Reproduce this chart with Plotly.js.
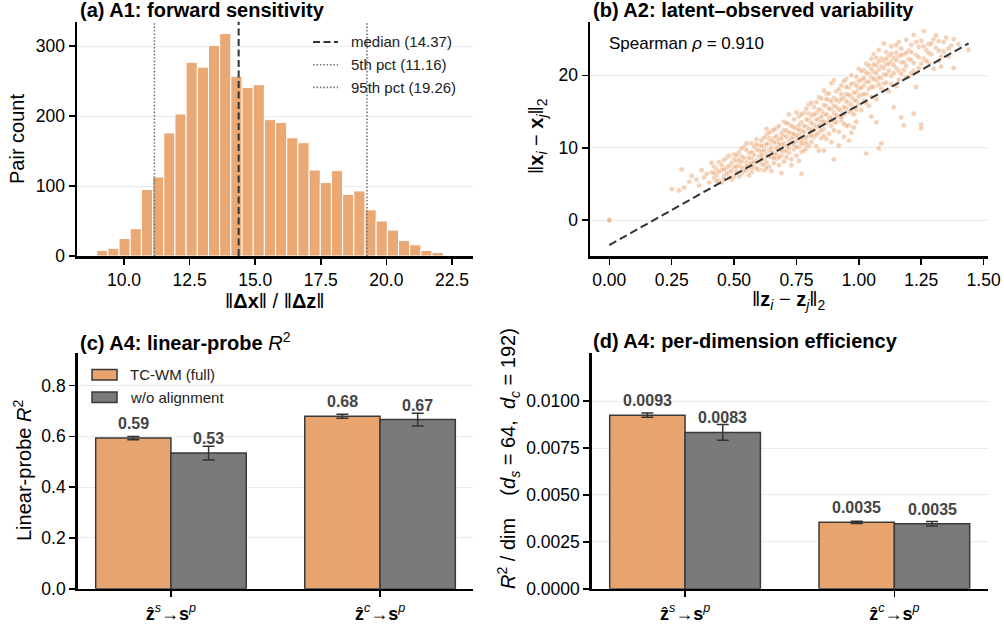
<!DOCTYPE html>
<html><head><meta charset="utf-8">
<script src="https://cdn.plot.ly/plotly-3.0.1.min.js"></script>
<style>html,body{margin:0;padding:0;background:#fff;}#chart{width:1004px;height:628px;}</style>
</head><body><div id="chart"></div>
<script>
// ---------- (a) histogram of ||dx||/||dz|| ----------
const histBinCenters = [9.173, 9.599, 10.025, 10.451, 10.877, 11.303, 11.729, 12.155, 12.581, 13.007, 13.433, 13.859, 14.285, 14.711, 15.137, 15.563, 15.989, 16.415, 16.841, 17.267, 17.693, 18.119, 18.545, 18.971, 19.397, 19.823, 20.249, 20.675, 21.101, 21.527, 21.953];
const histCounts = [8, 11, 25, 39, 95, 113, 176, 203, 277, 270, 301, 318, 257, 241, 245, 195, 191, 169, 162, 123, 105, 122, 88, 93, 66, 50, 37, 22, 16, 8, 5];
const histBinWidth = 0.426;
const medianVal = 14.37, p5Val = 11.16, p95Val = 19.26;

// ---------- (b) latent vs observed distances ----------
const scatterPairs = [
[0.00,0.0],[0.00,0.0],
[0.25,4.3],[0.28,4.1],[0.29,7.0],[0.30,4.5],[0.32,5.3],[0.33,6.1],[0.35,5.6],[0.36,4.8],[0.37,6.9],[0.38,5.9],[0.39,6.4],[0.40,5.2],
[0.41,6.6],[0.42,5.8],[0.42,7.4],[0.43,6.2],[0.44,5.5],[0.44,8.0],[0.45,6.9],[0.45,7.6],[0.46,6.1],[0.46,5.7],[0.47,7.2],[0.47,8.6],[0.48,6.6],[0.48,5.9],[0.49,7.9],[0.49,6.8],[0.50,9.1],[0.50,7.3],[0.50,6.0],[0.43,7.0],[0.46,8.3],[0.48,7.5],
[0.41,7.9],[0.43,5.4],[0.44,6.7],[0.45,5.2],[0.47,6.4],[0.49,5.6],[0.50,8.4],[0.42,6.5],[0.46,7.0],[0.48,8.9],
[0.51,8.2],[0.51,6.7],[0.52,7.6],[0.52,9.4],[0.53,6.4],[0.53,8.8],[0.54,7.1],[0.54,10.1],[0.55,8.0],[0.55,6.9],[0.56,9.3],[0.56,7.7],[0.57,8.5],[0.57,10.6],[0.57,6.6],[0.58,9.0],[0.58,7.4],[0.59,8.2],[0.59,11.2],[0.59,9.8],[0.60,7.0],[0.60,8.8],[0.52,8.3],[0.53,7.3],[0.55,9.7],[0.56,6.2],[0.58,10.2],[0.54,8.6],[0.60,10.3],[0.57,7.9],
[0.51,7.4],[0.52,6.0],[0.53,9.9],[0.54,6.8],[0.55,7.5],[0.56,8.6],[0.57,9.4],[0.58,8.0],[0.59,7.1],[0.60,9.6],[0.51,9.0],[0.53,8.1],[0.55,10.6],[0.57,7.2],[0.59,10.5],
[0.61,9.5],[0.61,7.8],[0.61,11.0],[0.62,8.4],[0.62,10.2],[0.62,6.9],[0.63,9.1],[0.63,11.8],[0.63,8.0],[0.64,10.6],[0.64,7.4],[0.64,9.7],[0.65,12.3],[0.65,8.7],[0.65,10.0],[0.66,9.3],[0.66,11.4],[0.66,7.9],[0.67,10.8],[0.67,8.5],[0.67,12.7],[0.68,9.9],[0.68,11.1],[0.68,7.6],[0.69,10.4],[0.69,8.9],[0.69,12.0],[0.70,9.5],[0.70,11.7],[0.70,13.6],[0.62,9.6],[0.64,11.3],[0.65,6.8],[0.66,10.7],[0.67,9.1],[0.68,13.0],[0.69,6.5],[0.63,12.6],[0.61,8.6],[0.70,8.1],
[0.61,10.3],[0.62,7.6],[0.63,10.5],[0.64,8.8],[0.65,11.0],[0.66,8.6],[0.67,11.6],[0.68,10.5],[0.69,9.6],[0.70,10.6],[0.62,11.4],[0.64,12.1],[0.66,12.5],[0.68,8.7],[0.70,12.4],[0.61,9.0],[0.63,7.2],[0.65,9.4],[0.67,10.0],[0.69,11.3],
[0.71,10.2],[0.71,12.4],[0.71,8.7],[0.72,11.0],[0.72,9.3],[0.72,13.3],[0.73,10.7],[0.73,12.0],[0.73,8.4],[0.74,11.5],[0.74,13.9],[0.74,9.8],[0.75,10.9],[0.75,12.7],[0.75,8.9],[0.76,11.8],[0.76,14.3],[0.76,10.1],[0.77,12.3],[0.77,9.4],[0.77,13.5],[0.78,11.2],[0.78,14.8],[0.78,10.5],[0.79,12.9],[0.79,9.9],[0.79,15.4],[0.80,11.7],[0.80,13.8],[0.80,10.3],[0.72,14.6],[0.73,7.6],[0.74,12.8],[0.75,14.9],[0.76,8.2],[0.77,11.0],[0.78,13.0],[0.79,11.4],[0.80,16.0],[0.71,11.5],[0.77,6.4],
[0.71,9.6],[0.72,12.1],[0.73,11.3],[0.74,10.4],[0.75,11.7],[0.76,13.1],[0.77,10.6],[0.78,12.2],[0.79,13.9],[0.80,12.6],[0.71,13.4],[0.73,13.0],[0.75,10.1],[0.77,14.6],[0.79,10.7],[0.72,10.0],[0.74,11.9],[0.76,12.5],[0.78,9.6],[0.80,14.7],
[0.81,12.5],[0.81,14.4],[0.81,10.8],[0.82,13.2],[0.82,15.6],[0.82,11.5],[0.83,12.9],[0.83,16.3],[0.83,10.2],[0.84,14.0],[0.84,12.1],[0.84,17.0],[0.85,13.6],[0.85,15.1],[0.85,11.3],[0.86,14.7],[0.86,12.6],[0.86,9.6],[0.87,15.8],[0.87,13.4],[0.87,17.5],[0.88,14.2],[0.88,11.9],[0.88,16.6],[0.89,15.3],[0.89,13.0],[0.89,18.9],[0.90,14.8],[0.90,16.9],[0.90,12.4],[0.83,14.8],[0.84,9.6],[0.85,16.8],[0.86,17.9],[0.87,11.2],[0.89,10.8],[0.90,19.3],[0.86,15.9],[0.81,16.2],[0.88,13.7],[0.90,8.4],
[0.81,13.4],[0.82,12.4],[0.83,13.9],[0.84,15.3],[0.85,12.4],[0.86,13.6],[0.87,14.6],[0.88,15.4],[0.89,14.1],[0.90,15.8],[0.81,11.7],[0.83,11.8],[0.85,14.3],[0.87,16.7],[0.89,16.4],[0.82,14.6],[0.84,13.1],[0.86,11.6],[0.88,17.5],[0.90,13.6],
[0.91,15.6],[0.91,13.5],[0.91,17.8],[0.92,14.3],[0.92,16.4],[0.92,12.2],[0.93,15.1],[0.93,18.6],[0.93,13.8],[0.94,16.9],[0.94,14.6],[0.94,11.5],[0.95,17.4],[0.95,15.5],[0.95,19.5],[0.96,16.2],[0.96,13.1],[0.96,18.3],[0.97,17.0],[0.97,14.9],[0.97,20.0],[0.98,16.6],[0.98,18.9],[0.98,12.8],[0.99,17.7],[0.99,15.3],[0.99,19.8],[1.00,18.2],[1.00,16.0],[1.00,20.9],[0.92,10.3],[0.94,19.2],[0.96,11.0],[0.97,12.1],[0.99,13.6],[0.93,16.7],[0.95,13.0],
[0.91,16.6],[0.92,15.3],[0.93,17.4],[0.94,15.6],[0.95,16.4],[0.96,17.3],[0.97,15.9],[0.98,17.6],[0.99,16.5],[1.00,19.2],[0.91,14.5],[0.93,14.2],[0.95,18.4],[0.97,18.8],[0.99,18.6],[0.92,18.1],[0.94,13.3],[0.96,15.0],[0.98,14.6],[1.00,17.1],
[1.01,17.3],[1.01,19.4],[1.01,15.2],[1.02,18.6],[1.02,20.7],[1.02,16.5],[1.03,19.1],[1.03,17.4],[1.03,21.6],[1.04,18.1],[1.04,20.2],[1.04,15.8],[1.05,19.7],[1.05,22.3],[1.05,17.0],[1.06,20.5],[1.06,18.4],[1.06,22.9],[1.07,19.3],[1.07,21.4],[1.07,16.7],[1.08,20.8],[1.08,23.5],[1.08,18.7],[1.09,21.2],[1.09,19.6],[1.09,10.6],[1.10,22.0],[1.10,20.1],[1.10,24.4],[1.03,9.2],[1.08,9.9],[1.05,14.3],[1.07,13.5],
[1.01,18.3],[1.02,17.4],[1.03,20.3],[1.04,19.1],[1.05,18.4],[1.06,21.5],[1.07,20.3],[1.08,19.7],[1.09,22.3],[1.10,21.0],[1.01,20.6],[1.03,16.2],[1.05,20.9],[1.07,22.4],[1.09,18.2],[1.02,19.6],[1.04,21.4],[1.06,19.5],[1.08,21.9],[1.10,18.9],
[1.11,21.5],[1.11,19.0],[1.11,23.2],[1.12,20.6],[1.12,22.7],[1.12,17.8],[1.13,21.9],[1.13,24.0],[1.13,19.9],[1.14,22.4],[1.14,20.3],[1.14,15.6],[1.15,23.1],[1.15,21.0],[1.15,18.5],[1.16,22.6],[1.16,24.6],[1.16,19.4],[1.17,21.8],[1.17,23.7],[1.18,20.7],[1.18,22.9],[1.18,13.1],[1.19,24.9],[1.19,21.3],[1.20,23.4],[1.20,19.8],[1.17,14.2],
[1.11,22.3],[1.12,21.6],[1.13,23.0],[1.14,21.4],[1.15,22.1],[1.16,20.6],[1.17,22.8],[1.18,21.8],[1.19,23.1],[1.20,22.2],[1.11,20.1],[1.13,18.8],[1.15,24.2],[1.17,20.2],[1.19,19.7],
[1.21,22.1],[1.21,24.2],[1.22,20.6],[1.22,25.6],[1.23,22.8],[1.23,18.4],[1.24,23.9],[1.24,21.0],[1.25,13.2],[1.25,12.7],[1.22,14.7],[1.25,24.8],[1.26,22.3],[1.26,26.1],[1.27,23.5],[1.28,21.7],[1.28,24.3],[1.29,22.9],[1.30,25.0],[1.30,20.9],
[1.21,23.2],[1.22,21.7],[1.23,24.6],[1.24,22.5],[1.26,24.0],[1.27,22.0],[1.29,24.4],[1.21,20.3],[1.25,21.6],[1.28,23.1],
[1.31,23.8],[1.31,25.5],[1.32,22.0],[1.32,24.7],[1.33,21.2],[1.34,23.3],[1.35,25.2],[1.36,22.6],[1.37,24.1],[1.38,25.0],[1.38,21.0],[1.40,24.3],[1.44,23.5],
[1.32,23.4],[1.34,24.6],[1.36,23.7],[1.33,22.6]
];
const fitX = [0.0, 1.44];
const fitY = [-3.44, 24.4];
const spearmanRho = 0.910;

// ---------- (c)/(d) linear probe ----------
const categories = ['<b>ẑ</b><sup><i>s</i></sup>→<b>s</b><sup><i>p</i></sup>', '<b>ẑ</b><sup><i>c</i></sup>→<b>s</b><sup><i>p</i></sup>'];
const seriesNames = ['TC-WM (full)', 'w/o alignment'];
const r2Full = [0.593, 0.679], r2FullErr = [0.006, 0.008];
const r2NoAlign = [0.534, 0.666], r2NoAlignErr = [0.027, 0.025];
const effFull = [0.00926, 0.00354], effFullErr = [0.00011, 0.00006];
const effNoAlign = [0.00834, 0.00347], effNoAlignErr = [0.00042, 0.00012];

// ---------- styling ----------
const W = 1004, H = 628;
const FONT = 'Liberation Sans, Arial, Helvetica, sans-serif';
const ORANGE = '#E8A46F', HISTC = '#E9A874', GRAY = '#7A7A7A', EDGE = '#3A3A3A', LABELC = '#444444';
const px = p => p / W, py = p => 1 - p / H;

const axBase = {showline: true, linecolor: '#000', linewidth: 2.5, ticks: 'outside', ticklen: 6, tickwidth: 1.6, tickcolor: '#000',
  tickfont: {family: FONT, size: 17.5, color: '#000'}, zeroline: false, showgrid: false, fixedrange: true};
const gridY = {showgrid: true, gridcolor: '#EBEBEB', gridwidth: 1};

const BW = 0.36;
const catIdx = categories.map((c, i) => i);
const traces = [
  {type: 'bar', x: histBinCenters, y: histCounts, width: histBinWidth, marker: {color: HISTC, line: {color: '#FFFFFF', width: 1}},
   xaxis: 'x', yaxis: 'y', showlegend: false, hoverinfo: 'x+y'},
  {type: 'scatter', mode: 'markers', x: scatterPairs.map(p => p[0]), y: scatterPairs.map(p => p[1]),
   marker: {color: 'rgba(234,162,108,0.5)', size: 5.2, line: {color: 'rgba(255,255,255,0.85)', width: 0.6}},
   xaxis: 'x2', yaxis: 'y2', showlegend: false},
  {type: 'scatter', mode: 'lines', x: fitX, y: fitY, line: {color: '#333333', width: 2, dash: '8px,4px'},
   xaxis: 'x2', yaxis: 'y2', showlegend: false},
  {type: 'bar', x: catIdx.map(i => i - BW / 2), y: r2Full, width: BW, name: seriesNames[0],
   marker: {color: ORANGE, line: {color: EDGE, width: 1.5}},
   error_y: {type: 'data', array: r2FullErr, color: '#333', thickness: 1.5, width: 6}, xaxis: 'x3', yaxis: 'y3', showlegend: false},
  {type: 'bar', x: catIdx.map(i => i + BW / 2), y: r2NoAlign, width: BW, name: seriesNames[1],
   marker: {color: GRAY, line: {color: EDGE, width: 1.5}},
   error_y: {type: 'data', array: r2NoAlignErr, color: '#333', thickness: 1.5, width: 6}, xaxis: 'x3', yaxis: 'y3', showlegend: false},
  {type: 'bar', x: catIdx.map(i => i - BW / 2), y: effFull, width: BW, name: seriesNames[0],
   marker: {color: ORANGE, line: {color: EDGE, width: 1.5}},
   error_y: {type: 'data', array: effFullErr, color: '#333', thickness: 1.5, width: 6}, xaxis: 'x4', yaxis: 'y4', showlegend: false},
  {type: 'bar', x: catIdx.map(i => i + BW / 2), y: effNoAlign, width: BW, name: seriesNames[1],
   marker: {color: GRAY, line: {color: EDGE, width: 1.5}},
   error_y: {type: 'data', array: effNoAlignErr, color: '#333', thickness: 1.5, width: 6}, xaxis: 'x4', yaxis: 'y4', showlegend: false}
];

const annotations = [];
const shapes = [];
const ann = (o) => annotations.push(Object.assign({showarrow: false, xref: 'paper', yref: 'paper'}, o));

// subplot titles
ann({x: px(78), y: py(10), xanchor: 'left', yanchor: 'middle', text: '<b>(a) A1: forward sensitivity</b>', font: {family: FONT, size: 20, color: '#000'}});
ann({x: px(591), y: py(10), xanchor: 'left', yanchor: 'middle', text: '<b>(b) A2: latent–observed variability</b>', font: {family: FONT, size: 20, color: '#000'}});
ann({x: px(78), y: py(341), xanchor: 'left', yanchor: 'middle', text: '<b>(c) A4: linear-probe </b><i>R</i><sup>2</sup>', font: {family: FONT, size: 20, color: '#000'}});
ann({x: px(591), y: py(341), xanchor: 'left', yanchor: 'middle', text: '<b>(d) A4: per-dimension efficiency</b>', font: {family: FONT, size: 20, color: '#000'}});

// axis titles
ann({x: px(275), y: py(301), xanchor: 'center', yanchor: 'middle', text: '‖<b>Δx</b>‖ / ‖<b>Δz</b>‖', font: {family: FONT, size: 20, color: '#000'}});
ann({x: px(789), y: py(301), xanchor: 'center', yanchor: 'middle', text: '‖<b>z</b><sub><i>i</i></sub> − <b>z</b><sub><i>j</i></sub>‖<sub>2</sub>', font: {family: FONT, size: 20, color: '#000'}});
ann({x: px(17), y: py(139), xanchor: 'center', yanchor: 'middle', textangle: -90, text: 'Pair count', font: {family: FONT, size: 20, color: '#000'}});
ann({x: px(538), y: py(136), xanchor: 'center', yanchor: 'middle', textangle: -90, text: '‖<b>x</b><sub><i>i</i></sub> − <b>x</b><sub><i>j</i></sub>‖<sub>2</sub>', font: {family: FONT, size: 20, color: '#000'}});
ann({x: px(22), y: py(471), xanchor: 'center', yanchor: 'middle', textangle: -90, text: 'Linear-probe <i>R</i><sup>2</sup>', font: {family: FONT, size: 20, color: '#000'}});
ann({x: px(508), y: py(459), xanchor: 'center', yanchor: 'middle', textangle: -90, text: '<i>R</i><sup>2</sup> / dim    (<i>d</i><sub><i>s</i></sub> = 64,  <i>d</i><sub><i>c</i></sub> = 192)', font: {family: FONT, size: 20, color: '#000'}});

// Spearman
ann({x: px(607), y: py(43), xanchor: 'left', yanchor: 'middle', text: 'Spearman <i>ρ</i> = ' + spearmanRho.toFixed(3), font: {family: FONT, size: 17, color: '#000'}});

// (a) vertical reference lines + legend
const vlines = [
  {v: medianVal, color: '#333333', dash: '7px,3.5px', width: 2, label: 'median (' + medianVal.toFixed(2) + ')'},
  {v: p5Val, color: '#777777', dash: '1.6px,1.8px', width: 1.6, label: '5th pct (' + p5Val.toFixed(2) + ')'},
  {v: p95Val, color: '#777777', dash: '1.6px,1.8px', width: 1.6, label: '95th pct (' + p95Val.toFixed(2) + ')'}
];
vlines.forEach((l, k) => {
  shapes.push({type: 'line', xref: 'x', yref: 'y domain', x0: l.v, x1: l.v, y0: 0, y1: 1, line: {color: l.color, width: l.width, dash: l.dash}, layer: 'above'});
  const yy = 42 + k * 22.7;
  shapes.push({type: 'line', xref: 'paper', yref: 'paper', x0: px(313), x1: px(338), y0: py(yy), y1: py(yy), line: {color: l.color, width: l.width, dash: l.dash}});
  ann({x: px(349), y: py(yy), xanchor: 'left', yanchor: 'middle', text: l.label, font: {family: FONT, size: 15, color: '#222'}});
});

// (c) legend
[ORANGE, GRAY].forEach((c, k) => {
  const yc = 374.7 + k * 22.6;
  shapes.push({type: 'rect', xref: 'paper', yref: 'paper', x0: px(92), x1: px(117), y0: py(yc - 5.3), y1: py(yc + 5.3), fillcolor: c, line: {color: EDGE, width: 1.5}});
  ann({x: px(128), y: py(yc), xanchor: 'left', yanchor: 'middle', text: seriesNames[k], font: {family: FONT, size: 15, color: '#222'}});
});

// value labels above bars
const lab = (xa, ya, xs, ys, fmt) => xs.forEach((xv, i) => annotations.push({xref: xa, yref: ya, x: xv, y: ys[i], xanchor: 'center', yanchor: 'bottom', yshift: 4,
  showarrow: false, text: '<b>' + ys[i].toFixed(fmt) + '</b>', font: {family: FONT, size: 16, color: LABELC}}));
lab('x3', 'y3', catIdx.map(i => i - BW / 2), r2Full, 2);
lab('x3', 'y3', catIdx.map(i => i + BW / 2), r2NoAlign, 2);
lab('x4', 'y4', catIdx.map(i => i - BW / 2), effFull, 4);
lab('x4', 'y4', catIdx.map(i => i + BW / 2), effNoAlign, 4);

const layout = {
  width: W, height: H, margin: {l: 0, r: 0, t: 0, b: 0}, paper_bgcolor: '#fff', plot_bgcolor: '#fff',
  font: {family: FONT, color: '#000'}, barmode: 'overlay', showlegend: false,
  xaxis: Object.assign({}, axBase, {domain: [px(77), px(473)], anchor: 'y', range: [8.21, 23.3], tickvals: [10, 12.5, 15, 17.5, 20, 22.5], tickformat: '.1f', ticklabelstandoff: 0}),
  yaxis: Object.assign({}, axBase, gridY, {domain: [py(256), py(21.7)], anchor: 'x', range: [0, 335], dtick: 100}),
  xaxis2: Object.assign({}, axBase, {domain: [px(590), px(988)], anchor: 'y2', range: [-0.0774, 1.5177], dtick: 0.25, tick0: 0, tickformat: '.2f', ticklabelstandoff: 0}),
  yaxis2: Object.assign({}, axBase, gridY, {domain: [py(256), py(21.7)], anchor: 'x2', range: [-4.95, 27.4], dtick: 10}),
  xaxis3: Object.assign({}, axBase, {domain: [px(77.7), px(473.3)], anchor: 'y3', range: [-0.446, 1.446], tickvals: catIdx, ticktext: categories, tickfont: {family: FONT, size: 18, color: '#000'}, ticklabelstandoff: 1}),
  yaxis3: Object.assign({}, axBase, gridY, {domain: [py(588.7), py(353.3)], anchor: 'x3', range: [0, 0.927], dtick: 0.2, tickformat: '.1f'}),
  xaxis4: Object.assign({}, axBase, {domain: [px(591.7), px(987.7)], anchor: 'y4', range: [-0.446, 1.446], tickvals: catIdx, ticktext: categories, tickfont: {family: FONT, size: 18, color: '#000'}, ticklabelstandoff: 1}),
  yaxis4: Object.assign({}, axBase, gridY, {domain: [py(588.7), py(353.3)], anchor: 'x4', range: [0, 0.01256], tickvals: [0, 0.0025, 0.005, 0.0075, 0.01], tickformat: '.4f'}),
  annotations: annotations, shapes: shapes
};
Plotly.newPlot('chart', traces, layout, {displayModeBar: false, staticPlot: true});
</script></body></html>
